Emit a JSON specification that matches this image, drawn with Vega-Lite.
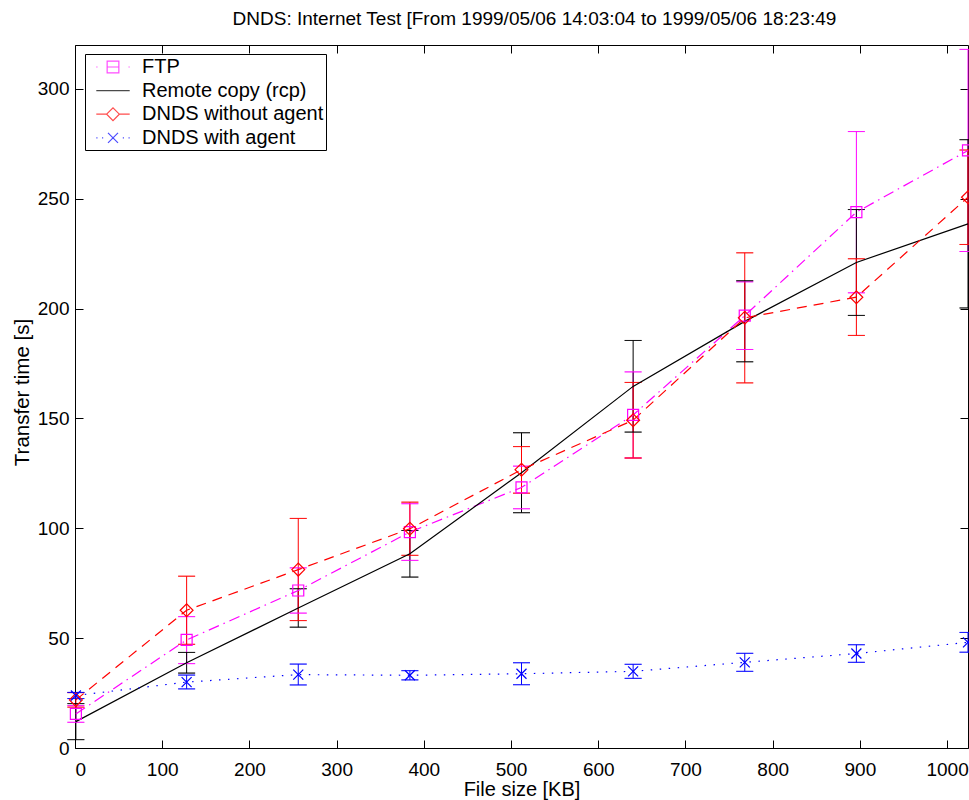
{
  "$schema": "https://vega.github.io/schema/vega-lite/v6.json",
  "width": 893,
  "height": 703,
  "autosize": {"type": "none"},
  "padding": {"left": 75, "top": 45, "right": 1, "bottom": 52},
  "background": "white",
  "title": {
    "text": "DNDS: Internet Test [From 1999/05/06 14:03:04 to 1999/05/06 18:23:49",
    "fontSize": 19,
    "fontWeight": "normal",
    "font": "Liberation Sans",
    "color": "black",
    "anchor": "middle",
    "offset": 16,
    "dx": 13
  },
  "config": {
    "font": "Liberation Sans",
    "view": {"stroke": "black", "strokeWidth": 1},
    "axis": {
      "grid": false,
      "domain": false,
      "tickColor": "black",
      "tickWidth": 1,
      "tickSize": -8,
      "labelColor": "black",
      "labelFontSize": 19,
      "labelFont": "Liberation Sans",
      "titleFont": "Liberation Sans",
      "titleFontSize": 20,
      "titleFontWeight": "normal",
      "titleColor": "black"
    },
    "legend": {
      "strokeColor": "black",
      "fillColor": "white",
      "strokeWidth": 1
    }
  },
  "data": {
    "values": [
      {"series": "FTP", "x": 1, "y": 15.5, "lo": 11.7, "hi": 19.3},
      {"series": "FTP", "x": 128, "y": 49.2, "lo": 38.4, "hi": 59.8},
      {"series": "FTP", "x": 256, "y": 71.7, "lo": 61.4, "hi": 82.0},
      {"series": "FTP", "x": 384, "y": 98.3, "lo": 85.4, "hi": 111.2},
      {"series": "FTP", "x": 512, "y": 118.6, "lo": 108.9, "hi": 128.3},
      {"series": "FTP", "x": 640, "y": 151.6, "lo": 132.0, "hi": 171.2},
      {"series": "FTP", "x": 768, "y": 196.8, "lo": 181.4, "hi": 212.2},
      {"series": "FTP", "x": 896, "y": 243.9, "lo": 207.2, "hi": 280.6},
      {"series": "FTP", "x": 1024, "y": 272.0, "lo": 226.0, "hi": 318.0},
      {"series": "Remote copy (rcp)", "x": 1, "y": 12.0, "lo": 3.8, "hi": 20.2},
      {"series": "Remote copy (rcp)", "x": 128, "y": 38.8, "lo": 34.1, "hi": 43.5},
      {"series": "Remote copy (rcp)", "x": 256, "y": 63.7, "lo": 55.0, "hi": 72.5},
      {"series": "Remote copy (rcp)", "x": 384, "y": 88.4, "lo": 77.8, "hi": 99.0},
      {"series": "Remote copy (rcp)", "x": 512, "y": 125.3, "lo": 107.1, "hi": 143.5},
      {"series": "Remote copy (rcp)", "x": 640, "y": 164.6, "lo": 143.8, "hi": 185.5},
      {"series": "Remote copy (rcp)", "x": 768, "y": 194.2, "lo": 175.8, "hi": 212.7},
      {"series": "Remote copy (rcp)", "x": 896, "y": 221.0, "lo": 196.9, "hi": 245.1},
      {"series": "Remote copy (rcp)", "x": 1024, "y": 238.6, "lo": 200.3, "hi": 276.9},
      {"series": "DNDS without agent", "x": 1, "y": 21.9, "lo": 18.6, "hi": 25.2},
      {"series": "DNDS without agent", "x": 128, "y": 62.7, "lo": 47.2, "hi": 78.2},
      {"series": "DNDS without agent", "x": 256, "y": 81.2, "lo": 58.0, "hi": 104.5},
      {"series": "DNDS without agent", "x": 384, "y": 99.8, "lo": 87.7, "hi": 111.9},
      {"series": "DNDS without agent", "x": 512, "y": 126.7, "lo": 116.0, "hi": 137.2},
      {"series": "DNDS without agent", "x": 640, "y": 149.2, "lo": 132.0, "hi": 166.4},
      {"series": "DNDS without agent", "x": 768, "y": 195.8, "lo": 166.2, "hi": 225.4},
      {"series": "DNDS without agent", "x": 896, "y": 205.2, "lo": 187.8, "hi": 222.7},
      {"series": "DNDS without agent", "x": 1024, "y": 250.7, "lo": 229.2, "hi": 272.2},
      {"series": "DNDS with agent", "x": 1, "y": 23.9, "lo": 22.5, "hi": 25.3},
      {"series": "DNDS with agent", "x": 128, "y": 30.0, "lo": 26.9, "hi": 33.2},
      {"series": "DNDS with agent", "x": 256, "y": 33.4, "lo": 28.7, "hi": 38.2},
      {"series": "DNDS with agent", "x": 384, "y": 33.1, "lo": 31.0, "hi": 35.2},
      {"series": "DNDS with agent", "x": 512, "y": 33.8, "lo": 28.8, "hi": 38.8},
      {"series": "DNDS with agent", "x": 640, "y": 34.9, "lo": 31.7, "hi": 38.1},
      {"series": "DNDS with agent", "x": 768, "y": 39.0, "lo": 34.9, "hi": 43.1},
      {"series": "DNDS with agent", "x": 896, "y": 43.0, "lo": 39.0, "hi": 47.0},
      {"series": "DNDS with agent", "x": 1024, "y": 48.1, "lo": 43.6, "hi": 52.6}
    ]
  },
  "resolve": {"axis": {"x": "independent", "y": "independent"}},
  "layer": [
    {
      "mark": {"type": "rule", "strokeWidth": 1},
      "encoding": {
        "x": {"field": "x", "type": "quantitative",
              "scale": {"domain": [0, 1024], "nice": false, "zero": false},
              "axis": {"orient": "bottom", "values": [0,100,200,300,400,500,600,700,800,900,1000], "format": "d",
                       "title": "File size [KB]", "labelPadding": 20, "titleY": 41, "titleBaseline": "middle"}},
        "y": {"field": "lo", "type": "quantitative",
              "scale": {"domain": [0, 320], "nice": false, "zero": false},
              "axis": {"orient": "left", "values": [0,50,100,150,200,250,300],
                       "title": "Transfer time [s]", "labelPadding": 14,
                       "titleX": -53, "titleY": 347, "titleBaseline": "middle", "titleFontSize": 20.5}},
        "y2": {"field": "hi"},
        "color": {"field": "series", "type": "nominal",
                  "scale": {"domain": ["FTP", "Remote copy (rcp)", "DNDS without agent", "DNDS with agent"],
                            "range": ["#ff00ff", "#000000", "#ff0000", "#0000ff"]}}
      }
    },
    {
      "mark": {"type": "tick", "orient": "horizontal", "size": 17, "thickness": 0, "filled": false, "strokeWidth": 1},
      "encoding": {
        "x": {"field": "x", "type": "quantitative",
              "axis": {"orient": "top", "values": [0,100,200,300,400,500,600,700,800,900,1000],
                       "labels": false, "title": null}},
        "y": {"field": "lo", "type": "quantitative",
              "axis": {"orient": "right", "values": [0,50,100,150,200,250,300],
                       "labels": false, "title": null}},
        "color": {"field": "series", "type": "nominal"}
      }
    },
    {
      "mark": {"type": "tick", "orient": "horizontal", "size": 17, "thickness": 0, "filled": false, "strokeWidth": 1},
      "encoding": {
        "x": {"field": "x", "type": "quantitative", "axis": null},
        "y": {"field": "hi", "type": "quantitative", "axis": null},
        "color": {"field": "series", "type": "nominal"}
      }
    },
    {
      "transform": [{"filter": "datum.series === 'FTP'"}],
      "mark": {"type": "line", "strokeWidth": 1.2, "strokeDash": [11, 5, 1.5, 5]},
      "encoding": {
        "x": {"field": "x", "type": "quantitative", "axis": null},
        "y": {"field": "y", "type": "quantitative", "axis": null},
        "color": {"field": "series", "type": "nominal"}
      }
    },
    {
      "transform": [{"filter": "datum.series === 'Remote copy (rcp)'"}],
      "mark": {"type": "line", "strokeWidth": 1.2},
      "encoding": {
        "x": {"field": "x", "type": "quantitative", "axis": null},
        "y": {"field": "y", "type": "quantitative", "axis": null},
        "color": {"field": "series", "type": "nominal"}
      }
    },
    {
      "transform": [{"filter": "datum.series === 'DNDS without agent'"}],
      "mark": {"type": "line", "strokeWidth": 1.2, "strokeDash": [10, 7]},
      "encoding": {
        "x": {"field": "x", "type": "quantitative", "axis": null},
        "y": {"field": "y", "type": "quantitative", "axis": null},
        "color": {"field": "series", "type": "nominal"}
      }
    },
    {
      "transform": [{"filter": "datum.series === 'DNDS with agent'"}],
      "mark": {"type": "line", "strokeWidth": 1.2, "strokeDash": [1.5, 7.5]},
      "encoding": {
        "x": {"field": "x", "type": "quantitative", "axis": null},
        "y": {"field": "y", "type": "quantitative", "axis": null},
        "color": {"field": "series", "type": "nominal"}
      }
    },
    {
      "transform": [{"filter": "datum.series === 'FTP'"}],
      "mark": {"type": "point", "filled": false, "strokeWidth": 1.2, "size": 121, "opacity": 1,
               "shape": "M-1,-1L1,-1L1,1L-1,1Z"},
      "encoding": {
        "x": {"field": "x", "type": "quantitative", "axis": null},
        "y": {"field": "y", "type": "quantitative", "axis": null},
        "color": {"field": "series", "type": "nominal"}
      }
    },
    {
      "transform": [{"filter": "datum.series === 'DNDS without agent'"}],
      "mark": {"type": "point", "filled": false, "strokeWidth": 1.2, "size": 165, "opacity": 1,
               "shape": "M-1,0L0,-1L1,0L0,1Z"},
      "encoding": {
        "x": {"field": "x", "type": "quantitative", "axis": null},
        "y": {"field": "y", "type": "quantitative", "axis": null},
        "color": {"field": "series", "type": "nominal"}
      }
    },
    {
      "transform": [{"filter": "datum.series === 'DNDS with agent'"}],
      "mark": {"type": "point", "filled": false, "strokeWidth": 1.2, "size": 100, "opacity": 1,
               "shape": "M-1,-1L1,1M-1,1L1,-1"},
      "encoding": {
        "x": {"field": "x", "type": "quantitative", "axis": null},
        "y": {"field": "y", "type": "quantitative", "axis": null},
        "color": {"field": "series", "type": "nominal"}
      }
    },
    {
      "mark": {"type": "point", "filled": false, "strokeWidth": 1.2, "size": 400, "opacity": 0},
      "encoding": {
        "x": {"field": "x", "type": "quantitative", "axis": null},
        "y": {"field": "y", "type": "quantitative", "axis": null},
        "color": {"field": "series", "type": "nominal",
                  "legend": {"orient": "none", "legendX": 10, "legendY": 9, "title": null,
                             "padding": 2, "rowPadding": 2.6, "labelFontSize": 20, "labelLimit": 500,
                             "labelColor": "black", "labelFont": "Liberation Sans",
                             "labelExpr": "datum.label + '\u00a0\u00a0\u00a0'",
                             "symbolSize": 400, "symbolStrokeWidth": 1.2, "symbolOpacity": 1,
                             "symbolFillColor": "transparent",
                             "labelOffset": 18, "symbolOffset": 15}},
        "shape": {"field": "series", "type": "nominal",
                  "legend": {"orient": "none", "legendX": 10, "legendY": 9, "title": null,
                             "padding": 2, "rowPadding": 2.6, "labelFontSize": 20, "labelLimit": 500,
                             "labelColor": "black", "labelFont": "Liberation Sans",
                             "labelExpr": "datum.label + '\u00a0\u00a0\u00a0'",
                             "symbolSize": 400, "symbolStrokeWidth": 1.2, "symbolOpacity": 1,
                             "symbolFillColor": "transparent",
                             "labelOffset": 18, "symbolOffset": 15},
                  "scale": {"domain": ["FTP", "Remote copy (rcp)", "DNDS without agent", "DNDS with agent"],
                            "range": [
                              "M-1.67,0L-1.55,0M1.55,0L1.67,0M-0.585,0L0.585,0M-0.585,-0.585L0.585,-0.585L0.585,0.585L-0.585,0.585Z",
                              "M-1.67,0L1.67,0",
                              "M-1.67,0L-0.635,0M0.635,0L1.67,0M-0.635,0L0,-0.635L0.635,0L0,0.635Z",
                              "M-1.67,0L-1.55,0M-1.1,0L-0.98,0M0.98,0L1.1,0M1.55,0L1.67,0M-0.5,-0.5L0.5,0.5M-0.5,0.5L0.5,-0.5"]}}
      }
    }
  ]
}
